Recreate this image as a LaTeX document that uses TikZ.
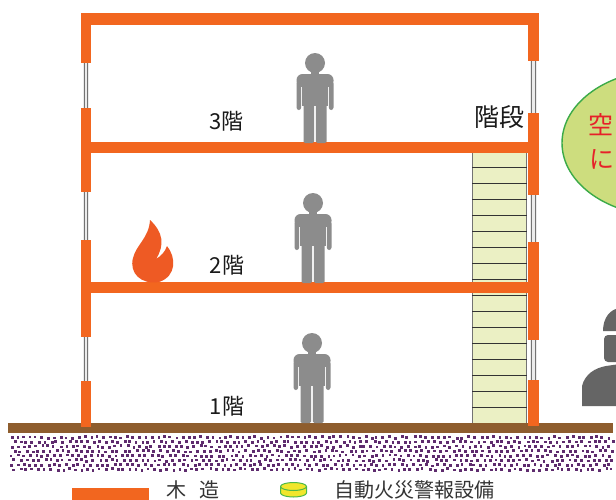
\documentclass[tikz,border=0pt]{standalone}
\usepackage{fontspec}
\newfontfamily\jpfont{Noto Sans CJK JP}
\definecolor{wood}{HTML}{F2661F}
\definecolor{groundbrown}{HTML}{8E5D2E}
\definecolor{soil}{HTML}{5E2C6E}
\definecolor{stairfill}{HTML}{EBF0C4}
\definecolor{personcol}{HTML}{8C8C8C}
\definecolor{workercol}{HTML}{656565}
\definecolor{flame}{HTML}{EE5A24}
\definecolor{bubblefill}{HTML}{CDDD7E}
\definecolor{bubbleline}{HTML}{3BAA48}
\definecolor{alarmfill}{HTML}{F1E62C}
\definecolor{alarmline}{HTML}{4DB848}
\definecolor{labeltext}{HTML}{1A1A1A}
\definecolor{redtext}{HTML}{E62129}
\tikzset{
  woodpart/.style={fill=wood},
  winpane/.style={fill=black!8},
  winline/.style={draw=black!55, line width=0.9pt},
  stairline/.style={draw=black!80, line width=0.8pt},
  floorlabel/.style={font=\jpfont\fontsize{22pt}{25pt}\selectfont, text=labeltext, inner sep=0pt},
  legendlabel/.style={font=\jpfont\fontsize{20pt}{23pt}\selectfont, text=black!80, inner sep=0pt, anchor=base west},
  bubbletext/.style={font=\jpfont\fontsize{25pt}{28pt}\selectfont, text=redtext, inner sep=0pt},
  person/.pic={
    \fill[personcol] (0,-80) circle (10pt);
    \fill[personcol] (-4,-72) rectangle (4,-66);
    \fill[personcol, rounded corners=6pt] (-18.5,-69) rectangle (18.5,-56);
    \fill[personcol] (-13,-62) rectangle (13,-37);
    \fill[personcol, rounded corners=2.5pt] (-18.5,-62) rectangle (-13.8,-33);
    \fill[personcol, rounded corners=2.5pt] (13.8,-62) rectangle (18.5,-33);
    \fill[personcol, rounded corners=1.5pt] (-11.5,-42) rectangle (-0.8,0);
    \fill[personcol, rounded corners=1.5pt] (0.8,-42) rectangle (11.5,0);
  }
}
\newcommand{\wallwindow}[3]{%
  \fill[winpane] (#1-3.2,#2) rectangle (#1+3.2,#3);
  \draw[winline] (#1-1.6,#2) -- (#1-1.6,#3);
  \draw[winline] (#1+1.6,#2) -- (#1+1.6,#3);
}
\begin{document}
\begin{tikzpicture}[x=1pt,y=-1pt]
\useasboundingbox (0,0) rectangle (616,499);
\clip (0,0) rectangle (616,499);
\fill[white] (0,0) rectangle (616,499);

% staircase
\fill[stairfill] (472,153) rectangle (527,423);
\draw[black!55, line width=0.8pt] (472.5,153) -- (472.5,423);
\draw[black!55, line width=0.8pt] (526.5,153) -- (526.5,423);
\foreach \k in {0,...,15}
  \draw[stairline] (472,167+16*\k) -- (527,167+16*\k);

% windows in the side walls
\wallwindow{86}{63}{108}
\wallwindow{86}{192}{240}
\wallwindow{86}{337}{381}
\wallwindow{533.5}{61}{113}
\wallwindow{533.5}{195}{242}
\wallwindow{533.5}{340}{380}

% wooden frame: walls
\fill[woodpart] (81,13) rectangle (91,63);
\fill[woodpart] (81,108) rectangle (91,192);
\fill[woodpart] (81,240) rectangle (91,337);
\fill[woodpart] (528,13) rectangle (539,61);
\fill[woodpart] (528,113) rectangle (539,195);
\fill[woodpart] (528,242) rectangle (539,340);

% roof and floors
\fill[woodpart] (81,13) rectangle (539,25);
\fill[woodpart] (81,142) rectangle (539,153);
\fill[woodpart] (81,282) rectangle (539,293);

% ground
\fill[groundbrown] (8,423) rectangle (613,433);
\pgfmathsetseed{11}
\foreach \r in {0,...,7}{
  \foreach \c in {0,...,98}{
    \pgfmathsetmacro{\sx}{10+6.1*\c+3*mod(\r,2)+1.4*rand}
    \pgfmathsetmacro{\sy}{436+4.6*\r+0.9*rand}
    \fill[soil] (\sx,\sy) rectangle ++(2.8,2.8);
  }
}
% lowest wall posts stand on the ground strip
\fill[woodpart] (81,381) rectangle (91,427);
\fill[woodpart] (528,380) rectangle (539,426);

% people on each floor
\pic (man3) at (315,143) {person};
\pic (man2) at (313,283) {person};
\pic (man1) at (312,423) {person};

% fire on the second floor
\fill[flame] (150,220)
  .. controls (163,232) and (165,245) .. (156,259)
  .. controls (161,256) and (165,252) .. (167,246)
  .. controls (176,257) and (177,276) .. (159,282)
  .. controls (141,285) and (129,273) .. (133,258)
  .. controls (136,245) and (149,238) .. (150,220) -- cycle;

% floor labels
\node[floorlabel] (f3) at (226.5,121) {3階};
\node[floorlabel] (f2) at (227,265) {2階};
\node[floorlabel] (f1) at (227,406) {1階};
\node[floorlabel, font=\jpfont\fontsize{25pt}{28pt}\selectfont] (stairs) at (499,117.5) {階段};

% speech bubble
\draw[fill=bubblefill, draw=bubbleline, line width=1.4pt] (665,143) ellipse [x radius=103pt, y radius=73pt];
\node[bubbletext] (b1) at (600.5,125) {空};
\node[bubbletext] (b2) at (601.5,159) {に};

% worker with helmet
\fill[workercol] (603,331) .. controls (603,318) and (610,309) .. (620,308) -- (620,331) -- cycle;
\fill[workercol, rounded corners=4pt] (604,335) -- (604,362) -- (620,362) -- (620,335) -- cycle;
\fill[workercol] (582,406) -- (582,386) .. controls (585,374) and (595,368) .. (606,366) -- (620,364) -- (620,406) -- cycle;

% legend: timber frame bar and alarm device
\fill[wood] (72,488) rectangle (149,505);
\node[legendlabel] (lwood) at (166,497) {木\hspace{13pt}造};
\fill[alarmfill, draw=alarmline, line width=1pt] (280.5,486.5) -- (280.5,493)
  arc[start angle=180, end angle=360, x radius=13pt, y radius=4pt] -- (306.5,486.5)
  arc[start angle=0, end angle=180, x radius=13pt, y radius=4pt] -- cycle;
\draw[alarmline, line width=1pt] (280.5,486.5) arc[start angle=180, end angle=360, x radius=13pt, y radius=4pt];
\node[legendlabel] (lalarm) at (334,497) {自動火災警報設備};
\end{tikzpicture}
\end{document}
